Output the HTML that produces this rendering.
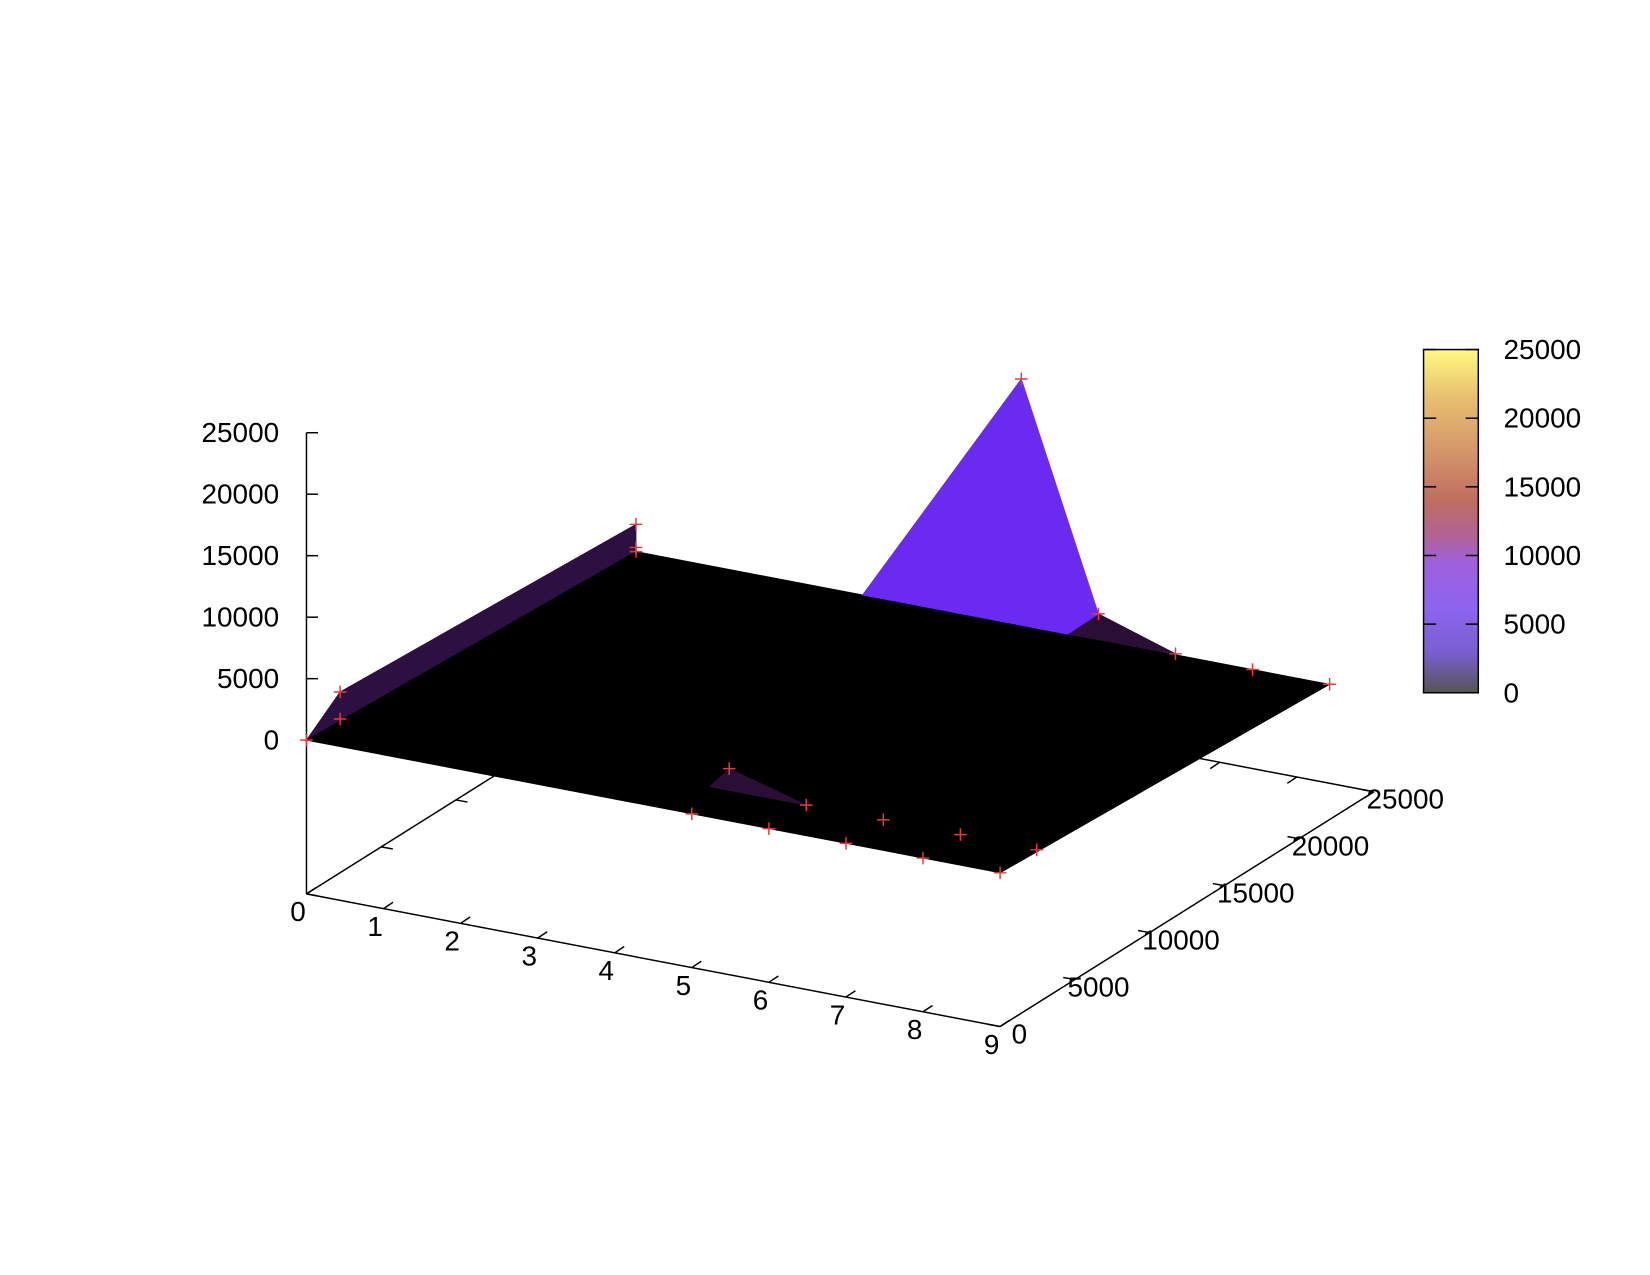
<!DOCTYPE html>
<html><head><meta charset="utf-8"><style>
html,body{margin:0;padding:0;background:#fff;}
svg{display:block;}
text{font-family:"Liberation Sans",Arial,sans-serif;font-size:26.5px;fill:#000;}
</style></head><body>
<svg id="chart" width="1650" height="1275" viewBox="0 0 1567 1211" xmlns="http://www.w3.org/2000/svg">
<defs>
<linearGradient id="pal" x1="0" y1="1" x2="0" y2="0">
<stop offset="0" stop-color="#555555"/>
<stop offset="0.12" stop-color="#7a5fd0"/>
<stop offset="0.25" stop-color="#8d64f0"/>
<stop offset="0.38" stop-color="#a060dc"/>
<stop offset="0.45" stop-color="#b0629a"/>
<stop offset="0.56" stop-color="#c06e60"/>
<stop offset="0.72" stop-color="#d69a6a"/>
<stop offset="0.86" stop-color="#e8c070"/>
<stop offset="1" stop-color="#fff880"/>
</linearGradient>
</defs>
<g id="axes"></g>
<g id="surf"></g>
<g id="marks"></g>
<g id="cbar"></g>
</svg>
<script>
const NS="http://www.w3.org/2000/svg";
// data
const xTicks=[0,1,2,3,4,5,6,7,8,9];
const yTicks=[0,5000,10000,15000,20000,25000];
const zTicks=[0,5000,10000,15000,20000,25000];
const cbTicks=[0,5000,10000,15000,20000,25000];
// surface patches: [x,y,z] vertices
const planeVerts=[[0,0,0],[9,0,0],[9,22040,-1500],[0,22040,-1500]];
const leftStrip=[[0,0,0],[0,2250,2200],[0,22040,720],[0,22040,-1500]];
const peakBright=[[2.94,22040,-1500],[5,22040,18530],[6,22040,630],[5.6,22040,-1500]];
const peakDark=[[5.6,22040,-1500],[6,22040,630],[7,22040,-1420]];
const frontPeak=[[4.75,2500,0],[5,2500,1770],[6,2500,0]];
const ptX=[0,0,0,0,0,0,5,6,7,8,9,5,6,7,8,9,5,6,7,8,9];
const ptY=[0,2250,2250,22040,22040,22040,0,0,0,0,0,2500,2500,2500,2500,2450,22040,22040,22040,22040,22040];
const ptZ=[0,0,2200,720,-1160,-1500,0,0,0,0,0,1770,0,0,0,0,18530,630,-1420,-1500,-1500];

const OX=291,OY=703,BASE=146;
function P(x,y,z){return [OX+73.2*x+355*y/25000, OY+14*x-223*y/25000-292*z/25000];}
function B(x,y){const p=P(x,y,0);return [p[0],p[1]+BASE];}
function el(tag,attrs,parent,text){const e=document.createElementNS(NS,tag);for(const k in attrs)e.setAttribute(k,attrs[k]);if(text!==undefined)e.textContent=text;parent.appendChild(e);return e;}
const axes=document.getElementById('axes'),surf=document.getElementById('surf'),marks=document.getElementById('marks'),cbar=document.getElementById('cbar');
function line(a,b,g,name){const l=el('line',{x1:a[0],y1:a[1],x2:b[0],y2:b[1],stroke:'#000','stroke-width':1.4},g);

return l;}
// base frame
line(B(0,0),B(9,0),axes,'x-axis');
line(B(9,0),B(9,25000),axes,'y-axis');
line(B(9,25000),B(0,25000),axes,'back-x-axis');
line(B(0,25000),B(0,0),axes,'back-y-axis');
line(B(0,0),P(0,0,25000),axes,'z-axis');
xTicks.forEach(v=>{const a=B(v,0);line(a,[a[0]+9,a[1]-6],axes,'x-tick');
const b=B(v,25000);line(b,[b[0]-9,b[1]+6],axes,'x-tick-back');
const t=el('text',{x:a[0]-8,y:a[1]+26,'text-anchor':'middle'},axes,String(v));

});
yTicks.forEach(v=>{const a=B(9,v);line(a,[a[0]-11,a[1]-2],axes,'y-tick');
const b=B(0,v);line(b,[b[0]+11,b[1]+2],axes,'y-tick-back');
const t=el('text',{x:a[0]+(v===0?11:-7),y:a[1]+16,'text-anchor':'start'},axes,String(v));

});
zTicks.forEach(v=>{const a=P(0,0,v);line(a,[a[0]+11,a[1]],axes,'z-tick');
const t=el('text',{x:a[0]-26,y:a[1]+9,'text-anchor':'end'},axes,String(v));

});
function poly(vs,fill,name){const pts=vs.map(v=>P(v[0],v[1],v[2]).join(',')).join(' ');
const p=el('polygon',{points:pts,fill:fill,stroke:fill,'stroke-width':0.8},surf);

}
poly(leftStrip,'#2c1042','left-ridge');
poly(planeVerts,'#000000','base-surface');
poly(peakDark,'#2a0e36','peak-shoulder');
poly(peakBright,'#6a2af0','main-peak');
poly(frontPeak,'#2a0e36','front-peak');
for(let i=0;i<ptX.length;i++){const p=P(ptX[i],ptY[i],ptZ[i]);
const g=el('path',{d:`M${p[0]-6},${p[1]}h12M${p[0]},${p[1]-6}v12`,stroke:'#e8383a','stroke-width':1.4,fill:'none'},marks);

}
// colorbar
const CX=1352,CW=52,CT=332,CB=658;
const r=el('rect',{x:CX,y:CT,width:CW,height:CB-CT,fill:'url(#pal)',stroke:'#000','stroke-width':1.4},cbar);


cbTicks.forEach(v=>{const y=CB-(CB-CT)*v/25000;
line([CX,y],[CX+12,y],cbar,'colorbar-tick');line([CX+CW-12,y],[CX+CW,y],cbar,'colorbar-tick');
const t=el('text',{x:1428,y:y+9},cbar,String(v));

});
</script>
</body></html>
